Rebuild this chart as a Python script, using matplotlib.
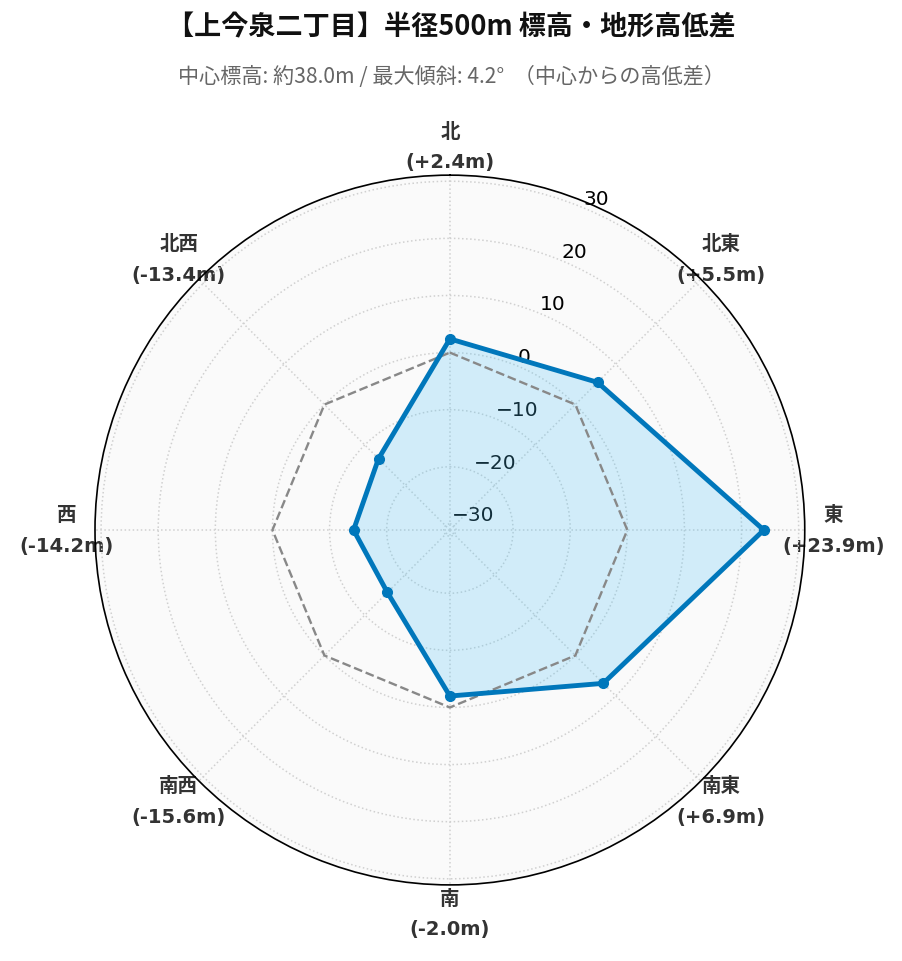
import numpy as np
import matplotlib
matplotlib.use("Agg")
import matplotlib.pyplot as plt

plt.rcParams['font.family'] = 'DejaVu Sans'

# ==========================================
# DATA
# ==========================================
DIRECTIONS = ["北", "北東", "東", "南東", "南", "南西", "西", "北西"]
DIFFS = [2.4, 5.5, 23.9, 6.9, -2.0, -15.6, -14.2, -13.4]
R_TICKS = [-30, -20, -10, 0, 10, 20, 30]
TITLE = "【上今泉二丁目】半径500m 標高・地形高低差"
SUBTITLE = "中心標高: 約38.0m / 最大傾斜: 4.2°  （中心からの高低差）"
# ==========================================

LINE_COLOR = "#0077bb"
CJK = ['Noto Sans CJK JP', 'DejaVu Sans']
LATIN_FIRST = ['DejaVu Sans', 'Noto Sans CJK JP']


def main():
    n = len(DIRECTIONS)
    angles = np.linspace(0, 2 * np.pi, n, endpoint=False)
    ang_closed = np.append(angles, angles[0])
    vals_closed = np.append(DIFFS, DIFFS[0])
    zero_closed = np.zeros(n + 1)

    lim = max(abs(v) for v in DIFFS) * 1.3

    fig = plt.figure(figsize=(9.03, 9.62), dpi=100)
    ax = fig.add_axes([0.1052, 0.079, 0.786, 0.738], projection="polar")
    ax.set_facecolor("#fafafa")
    ax.set_theta_zero_location("N")
    ax.set_theta_direction(-1)
    ax.set_ylim(-lim, lim)

    # 0m reference ring (center elevation)
    ax.plot(ang_closed, zero_closed, color="#888888", linestyle="--", linewidth=1.7, zorder=3)
    ax.fill(ang_closed, vals_closed, color="#4fc3f7", alpha=0.24, zorder=2)
    ax.plot(ang_closed, vals_closed, color=LINE_COLOR, linewidth=3.5, zorder=4)
    ax.plot(angles, DIFFS, "o", color=LINE_COLOR, markersize=7, zorder=5)

    labels = [f"{d}\n({v:+.1f}m)" for d, v in zip(DIRECTIONS, DIFFS)]
    ax.set_xticks(angles)
    ax.set_xticklabels(labels, fontsize=14, fontweight="bold", color="#333333",
                       linespacing=1.75, family=LATIN_FIRST)
    ax.tick_params(axis="x", pad=10)

    ax.set_yticks(R_TICKS)
    ax.set_yticklabels([str(t).replace("-", "\u2212") for t in R_TICKS], fontsize=14.5)
    ax.set_rlabel_position(22.5)

    ax.grid(True, color="#d0d0d0", linestyle=":", linewidth=1.1)
    ax.spines["polar"].set_color("black")
    ax.spines["polar"].set_linewidth(1.2)

    fig.text(0.5, 0.971, TITLE, ha="center", va="center", fontsize=19.5,
             fontweight="bold", family=CJK, color="#111111")
    fig.text(0.5, 0.920, SUBTITLE, ha="center", va="center", fontsize=15.2,
             family=CJK, color="#666666")

    fig.savefig("out.png", dpi=100, facecolor="white")


if __name__ == "__main__":
    main()
